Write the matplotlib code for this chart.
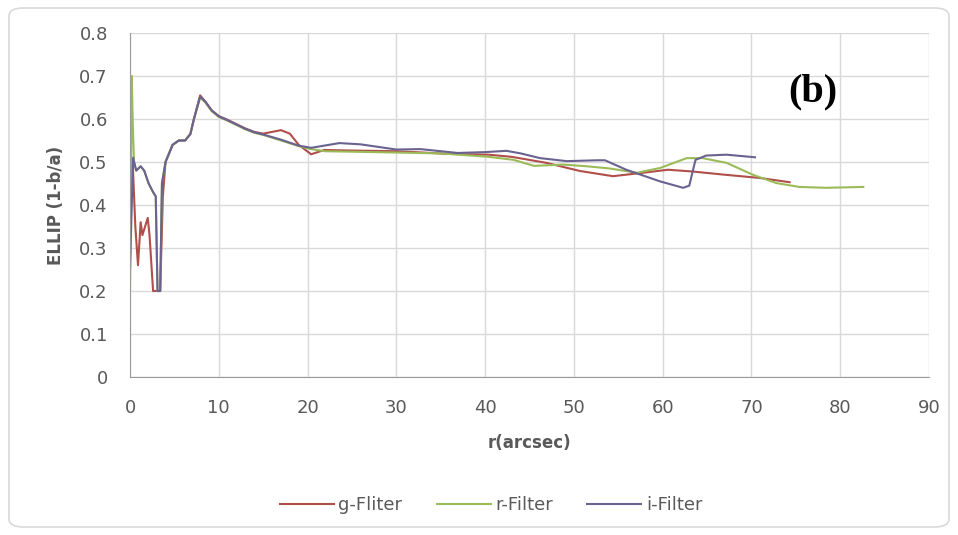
import numpy as np
import matplotlib.pyplot as plt
from matplotlib.patches import FancyBboxPatch

plt.rcParams['font.family'] = ['DejaVu Sans']

# g-Filter
g_r = [0.1, 0.3, 0.6, 0.9, 1.2, 1.4, 1.7, 2.0, 2.2, 2.6, 3.4, 3.7, 4.0, 4.8, 5.5, 6.2, 6.8,
       7.2, 7.9, 8.5, 9.2, 10, 11, 12, 13, 14, 15, 16, 17, 18, 19, 20.4, 21.9, 24, 27, 30,
       33, 35.7, 38, 40.4, 43, 46.9, 50.7, 54.4, 57.8, 60.6, 63.3, 67.2, 70.9, 74.3]
g_ellip = [0.45, 0.5, 0.35, 0.26, 0.36, 0.33, 0.35, 0.37, 0.33, 0.2, 0.2, 0.42, 0.5, 0.54, 0.55,
           0.55, 0.565, 0.6, 0.655, 0.64, 0.62, 0.607, 0.598, 0.588, 0.578, 0.57, 0.566, 0.57,
           0.574, 0.566, 0.54, 0.518, 0.528, 0.527, 0.526, 0.525, 0.522, 0.519, 0.518, 0.517,
           0.512, 0.498, 0.479, 0.467, 0.475, 0.482, 0.478, 0.47, 0.463, 0.453]

# r-Filter
r_r = [0.0, 0.1, 0.2, 0.3, 0.45, 0.7, 1.2, 1.6, 2.1, 2.6, 2.9, 3.1, 3.4, 3.6, 4.0, 4.8, 5.5,
       6.2, 6.8, 7.2, 7.9, 8.5, 9.2, 10, 11, 12, 13, 14, 15, 17, 19, 20.4, 22, 25, 30, 35,
       40.4, 43.2, 45.5, 48.8, 51.5, 54, 57.1, 59.7, 62.7, 64.5, 67.2, 70.2, 72.8, 75.4, 78.4, 82.6]
r_ellip = [0.2, 0.45, 0.7, 0.6, 0.5, 0.48, 0.49, 0.48, 0.45, 0.43, 0.42, 0.2, 0.2, 0.45, 0.5,
           0.54, 0.55, 0.55, 0.565, 0.6, 0.65, 0.638, 0.618, 0.605, 0.596, 0.586, 0.576, 0.568,
           0.563, 0.55, 0.537, 0.53, 0.525, 0.524, 0.522, 0.52, 0.512, 0.505, 0.491, 0.494,
           0.49, 0.485, 0.475, 0.486, 0.509, 0.509, 0.498, 0.47, 0.451, 0.442, 0.44, 0.442]

# i-Filter
i_r = [0.0, 0.2, 0.35, 0.7, 1.2, 1.6, 2.1, 2.6, 2.9, 3.1, 3.4, 3.6, 4.0, 4.8, 5.5, 6.2, 6.8,
       7.2, 7.9, 8.5, 9.2, 10, 11, 12, 13, 14, 15, 17, 19, 20.4, 23.6, 26, 30, 32.7, 36.9,
       40, 42.4, 44, 46.2, 49.2, 52.6, 53.5, 55.9, 59.7, 62.3, 63.0, 63.4, 63.7, 64.9, 67.2, 70.4]
i_ellip = [0.25, 0.4, 0.51, 0.48, 0.49, 0.48, 0.45, 0.43, 0.42, 0.2, 0.2, 0.45, 0.5, 0.54, 0.55,
           0.55, 0.565, 0.6, 0.652, 0.64, 0.62, 0.606, 0.597, 0.587, 0.577, 0.569, 0.564, 0.552,
           0.538, 0.533, 0.544, 0.541, 0.529, 0.53, 0.521, 0.523, 0.526, 0.52, 0.509, 0.502,
           0.504, 0.504, 0.482, 0.455, 0.44, 0.445, 0.48, 0.505, 0.515, 0.517, 0.511]

fig = plt.figure(figsize=(9.58, 5.35), dpi=100)
ax = fig.add_axes([130 / 958, 1 - 377 / 535, 799 / 958, 344 / 535])

ax.plot(g_r, g_ellip, color='#B04E4A', lw=1.5, label='g-Fliter')
ax.plot(r_r, r_ellip, color='#9BBB59', lw=1.5, label='r-Filter')
ax.plot(i_r, i_ellip, color='#6A6290', lw=1.5, label='i-Filter')

ax.set_xlim(0, 90)
ax.set_ylim(0, 0.8)
ax.set_xticks(np.arange(0, 91, 10))
ax.set_yticks(np.arange(0, 0.81, 0.1))
ax.set_yticklabels(['0', '0.1', '0.2', '0.3', '0.4', '0.5', '0.6', '0.7', '0.8'])
ax.grid(True, color='#d9d9d9', lw=1)
ax.set_axisbelow(True)
for s in ['top', 'right']:
    ax.spines[s].set_visible(False)
for s in ['left', 'bottom']:
    ax.spines[s].set_color('#9a9a9a')
ax.tick_params(length=0, labelsize=13, labelcolor='#595959', pad=16)

ax.set_xlabel('r(arcsec)', fontsize=12, fontweight='bold', color='#595959', labelpad=12)
ax.set_ylabel('ELLIP (1-b/a)', fontsize=12, fontweight='bold', color='#595959', labelpad=10)

ax.text(0.854, 0.828, '(b)', transform=ax.transAxes, fontsize=29, fontweight='bold',
        family='Liberation Serif', ha='center', va='center')

fig.legend(loc='center', bbox_to_anchor=(491 / 958, 1 - 505 / 535), ncol=3, frameon=False,
           handlelength=3.0, handletextpad=0.25, columnspacing=1.9, fontsize=13,
           labelcolor='#595959')

border = FancyBboxPatch((9 / 958, 8 / 535), 940 / 958, 519 / 535,
                        boxstyle='round,pad=0,rounding_size=0.015', transform=fig.transFigure,
                        fill=False, edgecolor='#d9d9d9', lw=1.2)
fig.patches.append(border)

fig.savefig('out.png', dpi=100)
